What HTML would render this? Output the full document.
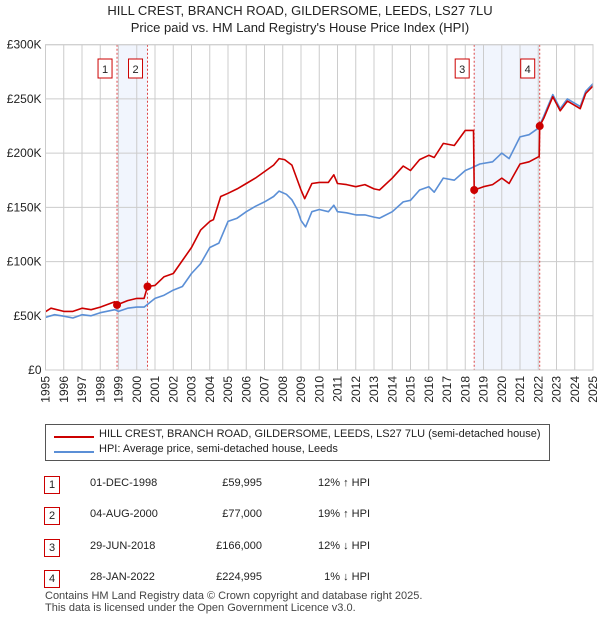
<!DOCTYPE html>
<html><head><meta charset="utf-8"><style>
body{margin:0;background:#fff;font-family:"Liberation Sans","DejaVu Sans",sans-serif;color:#222}
#wrap{position:relative;width:600px;height:620px;overflow:hidden}
.t{position:absolute;font-size:12px;white-space:nowrap}
.nb{position:absolute;width:14px;height:16px;border:1px solid #c00;font-size:11px;text-align:center;line-height:16px;background:#fff}
</style></head><body><div id="wrap">
<div class="t" style="left:0;width:600px;text-align:center;top:2px;font-size:13px;line-height:17px">HILL CREST, BRANCH ROAD, GILDERSOME, LEEDS, LS27 7LU<br>Price paid vs. HM Land Registry's House Price Index (HPI)</div>
<svg id="chart" width="600" height="420" style="position:absolute;left:0;top:0"></svg>
<div style="position:absolute;left:45px;top:424px;width:505px;height:37px;border:1px solid #555;box-sizing:border-box">
<div><div style="position:absolute;left:8px;top:11px;width:40px;height:2px;background:#c00"></div><div class="t" style="left:53px;top:3px;font-size:11px">HILL CREST, BRANCH ROAD, GILDERSOME, LEEDS, LS27 7LU (semi-detached house)</div></div>
<div><div style="position:absolute;left:8px;top:26px;width:40px;height:2px;background:#5b8fd6"></div><div class="t" style="left:53px;top:18px;font-size:11px">HPI: Average price, semi-detached house, Leeds</div></div>
</div>
<div id="table"></div>
<div class="t" style="left:45px;top:590px;font-size:11px;line-height:12px;color:#444">Contains HM Land Registry data © Crown copyright and database right 2025.<br>This data is licensed under the Open Government Licence v3.0.</div>
</div>
<script>
const hpiYears=[1995,1995.5,1996,1996.5,1997,1997.5,1998,1998.8,1999,1999.5,2000,2000.4,2001,2001.5,2002,2002.5,2003,2003.5,2004,2004.5,2005,2005.5,2006,2006.5,2007,2007.5,2007.8,2008.2,2008.5,2008.8,2009,2009.25,2009.6,2010,2010.5,2010.8,2011,2011.5,2012,2012.5,2013,2013.3,2014,2014.6,2015,2015.5,2016,2016.3,2016.8,2017.4,2018,2018.3,2018.8,2019.5,2020,2020.4,2021,2021.5,2022,2022.3,2022.8,2023.2,2023.6,2024,2024.3,2024.6,2025];
const hpiValues=[48.5,51,49.6,48,51,50,52.8,55.6,54,57,58,58,66,69,73.7,77,89,98,113,117,137,140,146,151,155,160,165,162,157,148,138,132,146,148,146,152,146,145,143,143,141,140,146,155,156.5,166,169,164,177,175,184,186,190,192,200,195,215,217,223,234,254,241,250,246,243,257,264];
const redYears=[1995,1995.3,1996,1996.5,1997,1997.5,1998,1998.8,1998.92,1999.5,2000,2000.4,2000.59,2001,2001.5,2002,2002.5,2003,2003.5,2004,2004.2,2004.6,2005,2005.5,2006,2006.5,2007,2007.5,2007.8,2008.1,2008.5,2009,2009.2,2009.6,2010,2010.5,2010.8,2011,2011.5,2012,2012.5,2013,2013.3,2014,2014.6,2015,2015.5,2016,2016.3,2016.8,2017.4,2018,2018.45,2018.49,2019,2019.5,2020,2020.4,2021,2021.5,2022.05,2022.08,2022.3,2022.8,2023.2,2023.6,2024,2024.3,2024.6,2025];
const redValues=[53.8,57,54,54,57,55.6,58,63,60,64,66,66,77,78,86,89,101,113,129,137,138.6,160,163,167,172,177,183,189,195,194,189,166,158,172,173,173,180,172,171,169,171,167,166,177,188,184,194,198,196,209,207,221,221,166,169,171,177,172,190,192,197,225,232,252,239,248,244,241,255,262];
const saleIds=["1","2","3","4"];
const saleYears=[1998.92,2000.59,2018.49,2022.08];
const saleValues=[59.995,77,166,224.995];
const saleDates=["01-DEC-1998","04-AUG-2000","29-JUN-2018","28-JAN-2022"];
const salePrices=["£59,995","£77,000","£166,000","£224,995"];
const saleDiffs=["12% ↑ HPI","19% ↑ HPI","12% ↓ HPI","1% ↓ HPI"];
const yTicks=[0,50,100,150,200,250,300];
const yTickLabels=["£0","£50K","£100K","£150K","£200K","£250K","£300K"];
const xTicks=[];for(let y=1995;y<=2025;y++)xTicks.push(y);

const X0=45.5,X1=593,Y0=370,Y1=44.7;
const xs=y=>X0+(y-1995)/30*(X1-X0);
const ys=v=>Y0-v/300*(Y0-Y1);
const NS="http://www.w3.org/2000/svg";
const svg=document.getElementById('chart');
function mk(tag,attrs,parent){const e=document.createElementNS(NS,tag);for(const k in attrs)e.setAttribute(k,attrs[k]);(parent||svg).appendChild(e);return e;}
// shading
for(const [a,b] of [[0,1],[2,3]]){const r=mk('rect',{x:xs(saleYears[a]),y:Y1,width:xs(saleYears[b])-xs(saleYears[a]),height:Y0-Y1,fill:'#eef3fc',opacity:0.8});

}
// grid
xTicks.forEach(y=>{const l=mk('line',{x1:xs(y),x2:xs(y),y1:Y1,y2:Y0,stroke:'#ccc','stroke-width':1});


const t=mk('text',{x:0,y:0,transform:`translate(${xs(y)+4},${Y0+6}) rotate(-90)`,'text-anchor':'end','font-size':12,fill:'#222','font-family':'Liberation Sans, sans-serif'});t.textContent=y;

});
yTicks.forEach((v,i)=>{const l=mk('line',{x1:X0,x2:X1,y1:ys(v),y2:ys(v),stroke:'#ccc','stroke-width':1});


const t=mk('text',{x:X0-4,y:ys(v)+4,'text-anchor':'end','font-size':12,fill:'#222','font-family':'Liberation Sans, sans-serif'});t.textContent=yTickLabels[i];

});
// sale vlines & labels
saleYears.forEach((y,i)=>{const l=mk('line',{x1:xs(y),x2:xs(y),y1:Y1,y2:Y0,stroke:'#d44','stroke-width':1,'stroke-dasharray':'2,2'});


const g=mk('g',{});


mk('rect',{x:xs(y)-19,y:59,width:14,height:19,fill:'#fff',stroke:'#c00'},g);
const t=mk('text',{x:xs(y)-12,y:73,'text-anchor':'middle','font-size':11,fill:'#222','font-family':'Liberation Sans, sans-serif'},g);t.textContent=saleIds[i];});
function path(xa,va,color,name){const d=xa.map((y,i)=>(i?'L':'M')+xs(y).toFixed(1)+','+ys(va[i]).toFixed(1)).join('');
const p=mk('path',{d,fill:'none',stroke:color,'stroke-width':1.6,'stroke-linejoin':'round'});

}
path(hpiYears,hpiValues,'#5b8fd6','hpi-line');
path(redYears,redValues,'#c00','price-paid-line');
saleYears.forEach((y,i)=>{const c=mk('circle',{cx:xs(y),cy:ys(saleValues[i]),r:4,fill:'#c00'});

});
mk('rect',{x:X0,y:Y1,width:X1-X0,height:Y0-Y1,fill:'none',stroke:'#ccc'});
// table
const tb=document.getElementById('table');
const rowY=[476,507,539,570];
saleIds.forEach((id,i)=>{const r=document.createElement('div');


r.innerHTML=`<div class="nb" style="left:44px;top:${rowY[i]}px">${id}</div>
<div class="t" style="left:90px;top:${rowY[i]+1}px;font-size:11px">${saleDates[i]}</div>
<div class="t" style="left:180px;width:82px;text-align:right;top:${rowY[i]+1}px;font-size:11px">${salePrices[i]}</div>
<div class="t" style="left:280px;width:90px;text-align:right;top:${rowY[i]+1}px;font-size:11px">${saleDiffs[i]}</div>`;
tb.appendChild(r);});
</script></body></html>
